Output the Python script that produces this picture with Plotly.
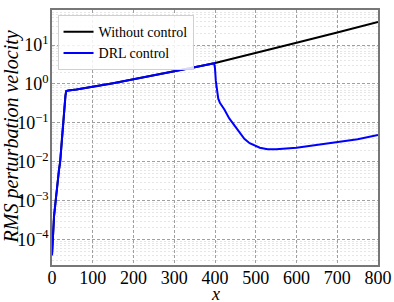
import plotly.graph_objects as go

# shared part (both cases identical up to x ~ 400)
x_common = [0, 2, 5, 9, 13, 17, 20, 24, 27, 30, 33, 35, 40, 60, 80, 100, 150, 200, 250, 300, 350, 398]
v_common = [4e-5, 1.2e-4, 4e-4, 1e-3, 3e-3, 6e-3, 1e-2, 3.5e-2, 0.1, 0.25, 0.5, 0.66, 0.68, 0.72, 0.78, 0.84,
            1.05, 1.32, 1.65, 2.1, 2.7, 3.4]

# without control, x > 400
x_free = [450, 500, 600, 700, 800]
v_free = [4.6, 6.2, 11.5, 21, 39]

# DRL control, x > 400
x_drl = [400, 402, 405, 408, 412, 423, 435, 448, 460, 472, 485, 497, 510, 529, 550, 600, 650, 700, 750, 800]
v_drl = [2.5, 1.2, 0.6, 0.42, 0.33, 0.22, 0.13, 0.083, 0.055, 0.039, 0.030, 0.026, 0.023, 0.021, 0.021,
         0.023, 0.027, 0.031, 0.038, 0.049]

y_tick_vals = [1e-4, 1e-3, 1e-2, 1e-1, 1e0, 1e1]
y_tick_text = ["10<sup>\u22124</sup>", "10<sup>\u22123</sup>", "10<sup>\u22122</sup>",
               "10<sup>\u22121</sup>", "10<sup>0</sup>", "10<sup>1</sup>"]
x_tick_vals = [0, 100, 200, 300, 400, 500, 600, 700, 800]

minor_vals = [m * 10.0 ** e for e in range(-5, 2) for m in range(2, 10)]

FONT = "Liberation Serif, Times New Roman, serif"

fig = go.Figure()
fig.add_trace(go.Scatter(x=x_common + x_free, y=v_common + v_free, mode="lines",
                         name="Without control", line=dict(color="black", width=2)))
fig.add_trace(go.Scatter(x=x_common + x_drl, y=v_common + v_drl, mode="lines",
                         name="DRL control", line=dict(color="#0000ff", width=2)))

fig.update_layout(
    width=394, height=302,
    margin=dict(l=52, r=16, t=10, b=37),
    plot_bgcolor="white", paper_bgcolor="white",
    font=dict(family=FONT, size=18, color="black"),
    showlegend=True,
    legend=dict(x=0.017, y=0.98, xanchor="left", yanchor="top",
                bgcolor="rgba(255,255,255,0.85)", bordercolor="#d0d0d0", borderwidth=1,
                font=dict(family=FONT, size=14), tracegroupgap=0, itemwidth=30),
    annotations=[
        dict(text="<i>x</i>", xref="paper", yref="paper", x=0.5, y=0, yshift=-29,
             xanchor="center", yanchor="middle", showarrow=False, font=dict(family=FONT, size=18)),
        dict(text="<i>RMS perturbation velocity</i>", xref="paper", yref="paper", x=0, y=0.5,
             xshift=-41, xanchor="center", yanchor="middle", textangle=-90, showarrow=False,
             font=dict(family=FONT, size=20)),
    ],
)
fig.update_xaxes(
    range=[0, 800], tickvals=x_tick_vals, ticks="", showline=True, mirror=True, automargin=False,
    linecolor="#777", linewidth=1.5, showgrid=True, gridcolor="#a0a0a0", griddash="3px,2px", gridwidth=1,
    zeroline=False, tickfont=dict(family=FONT, size=18), ticklabelstandoff=-4,
)
fig.update_yaxes(
    type="log", range=[-4.65, 1.9], tickvals=y_tick_vals, ticktext=y_tick_text, ticks="", automargin=False,
    showline=True, mirror=True, linecolor="#777", linewidth=1.5,
    showgrid=True, gridcolor="#a0a0a0", griddash="3px,2px", gridwidth=1,
    minor=dict(tickvals=minor_vals, showgrid=True, gridcolor="#e6e6e6", griddash="2px,2px", gridwidth=1, ticks=""),
    zeroline=False, tickfont=dict(family=FONT, size=18), ticklabelstandoff=-2,
)

fig.write_html("out.html", config={"displayModeBar": False},
               post_script="document.body.style.margin='0';")
